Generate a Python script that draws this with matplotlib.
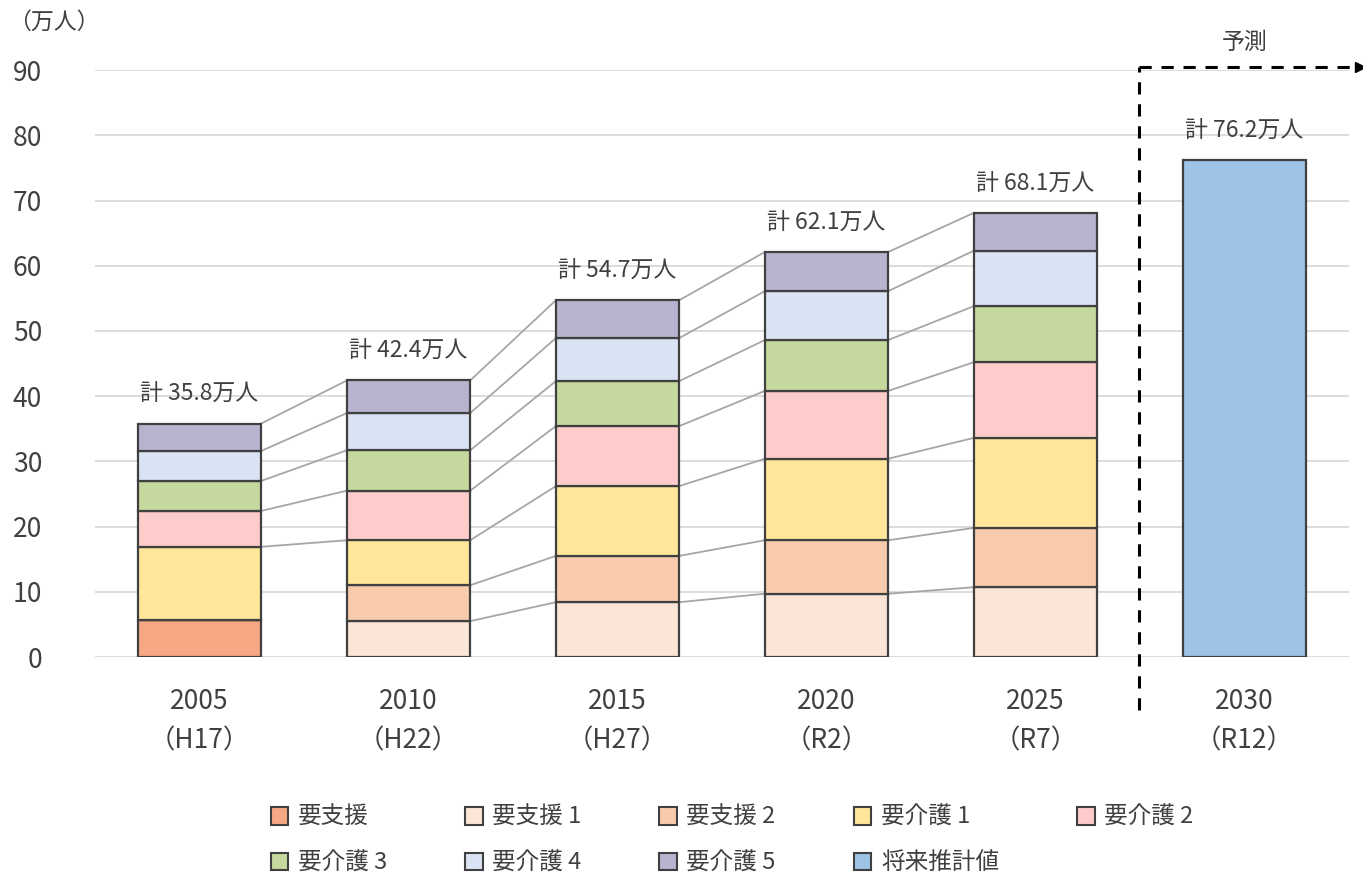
import matplotlib.pyplot as plt
import numpy as np
from matplotlib.patches import Patch

plt.rcParams['font.family'] = ['Noto Sans CJK JP', 'DejaVu Sans']

years = ['2005\n（H17）', '2010\n（H22）', '2015\n（H27）', '2020\n（R2）', '2025\n（R7）', '2030\n（R12）']
series = ['要支援', '要支援 1', '要支援 2', '要介護 1', '要介護 2', '要介護 3', '要介護 4', '要介護 5']
colors = ['#F6A784', '#FBE5D6', '#F8CBAD', '#FFE699', '#FFCCCC', '#C5D89D', '#DAE3F3', '#B8B3CF']

# values per series for 2005..2025 (万人)
shien = [5.7, 0, 0, 0, 0]
shien1 = [0, 5.5, 8.4, 9.7, 10.7]
shien2 = [0, 5.5, 7.1, 8.2, 9.1]
kaigo1 = [11.2, 6.9, 10.7, 12.5, 13.8]
kaigo2 = [5.5, 7.6, 9.2, 10.4, 11.6]
kaigo3 = [4.6, 6.2, 6.9, 7.8, 8.6]
kaigo4 = [4.6, 5.7, 6.6, 7.5, 8.5]
kaigo5 = [4.2, 5.0, 5.8, 6.0, 5.8]
totals = [35.8, 42.4, 54.7, 62.1, 68.1]
forecast = 76.2

data = np.array([shien, shien1, shien2, kaigo1, kaigo2, kaigo3, kaigo4, kaigo5])

fig = plt.figure(figsize=(13.63, 8.76), dpi=100)
ax = fig.add_axes([0.0697, 0.25, 0.92, 0.67])

txt = '#404040'
w = 0.59
x = np.arange(5)
bottom = np.zeros(5)
tops = []
for i in range(len(series)):
    ax.bar(x, data[i], w, bottom=bottom, color=colors[i], edgecolor='#404040', linewidth=1.6, zorder=3)
    bottom = bottom + data[i]
    tops.append(bottom.copy())

# connector lines between neighbouring bars
for i in range(len(series)):
    for j in range(4):
        if data[i][j] > 0 and data[i][j + 1] > 0:
            ax.plot([j + w / 2, j + 1 - w / 2], [tops[i][j], tops[i][j + 1]],
                    color='#A6A6A6', linewidth=1.3, zorder=2)

ax.bar(5, forecast, w, color='#9DC3E6', edgecolor='#404040', linewidth=1.6, zorder=3)

for j, t in enumerate(totals + [forecast]):
    ax.text(j, t + 4.6, '計 %.1f万人' % t, ha='center', va='center', fontsize=16.5, color=txt)

ax.set_xlim(-0.5, 5.5)
ax.set_ylim(0, 90)
ax.set_yticks(np.arange(0, 91, 10))
ax.set_xticks(np.arange(6))
ax.set_xticklabels(years, fontsize=19, color=txt, linespacing=1.6)
ax.tick_params(axis='both', length=0, labelsize=19, labelcolor=txt)
ax.tick_params(axis='x', pad=22)
ax.tick_params(axis='y', pad=38)
ax.grid(axis='y', color='#D9D9D9', linewidth=1.3, zorder=0)
for s in ax.spines.values():
    s.set_visible(False)

# forecast bracket
ax.plot([4.493, 4.493], [-8.2, 90.5], color='black', linestyle=(0, (4, 3.2)), linewidth=2.2, clip_on=False, zorder=4)
ax.plot([4.493, 5.54], [90.5, 90.5], color='black', linestyle=(0, (4, 3.2)), linewidth=2.2, clip_on=False, zorder=4)
ax.plot([5.555], [90.5], marker='>', color='black', markersize=7, clip_on=False, zorder=4)
ax.text(5.0, 94.3, '予測', ha='center', va='center', fontsize=16.5, color=txt, clip_on=False)

fig.text(0.006, 0.975, '（万人）', ha='left', va='center', fontsize=16.5, color=txt)

handles = [Patch(facecolor=c, edgecolor='#404040', linewidth=1.5) for c in colors]
handles.append(Patch(facecolor='#9DC3E6', edgecolor='#404040', linewidth=1.5))
labels = series + ['将来推計値']
# legend fills column by column, so interleave to get row order
order = [0, 5, 1, 6, 2, 7, 3, 8, 4]
fig.legend([handles[k] for k in order], [labels[k] for k in order], loc='upper center',
           bbox_to_anchor=(0.537, 0.104), ncol=5, frameon=False, fontsize=17,
           handlelength=0.75, handleheight=0.75, handletextpad=0.4, columnspacing=3.3,
           labelcolor=txt, labelspacing=0.95)

fig.savefig('out.png', dpi=100)
